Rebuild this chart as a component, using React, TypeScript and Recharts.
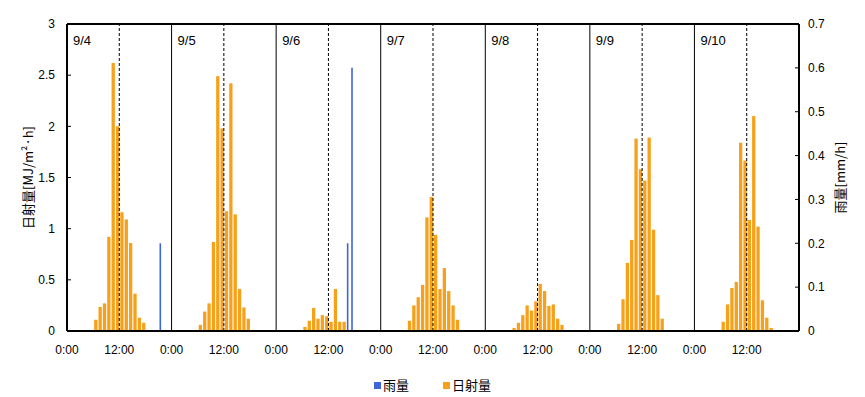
import { Bar, BarChart, Legend, ReferenceLine, XAxis, YAxis } from "recharts";

const days = ["9/4", "9/5", "9/6", "9/7", "9/8", "9/9", "9/10"];

// hourly solar radiation per day, 0:00 .. 23:00 (MJ/m2·h)
const solarByDay = [
  [0, 0, 0, 0, 0, 0, 0.11, 0.235, 0.27, 0.92, 2.62, 2.0, 1.16, 1.09, 0.86, 0.365, 0.13, 0.08, 0, 0, 0, 0, 0, 0],
  [0, 0, 0, 0, 0, 0, 0.06, 0.19, 0.27, 0.87, 2.49, 1.98, 1.17, 2.42, 1.14, 0.41, 0.23, 0.12, 0, 0, 0, 0, 0, 0],
  [0, 0, 0, 0, 0, 0, 0.04, 0.1, 0.225, 0.12, 0.155, 0.145, 0.09, 0.41, 0.09, 0.09, 0, 0, 0, 0, 0, 0, 0, 0],
  [0, 0, 0, 0, 0, 0, 0.1, 0.25, 0.33, 0.45, 1.11, 1.31, 0.94, 0.41, 0.615, 0.39, 0.25, 0.11, 0, 0, 0, 0, 0, 0],
  [0, 0, 0, 0, 0, 0, 0.03, 0.08, 0.155, 0.25, 0.2, 0.29, 0.46, 0.39, 0.245, 0.26, 0.12, 0.06, 0, 0, 0, 0, 0, 0],
  [0, 0, 0, 0, 0, 0, 0.07, 0.31, 0.665, 0.89, 1.88, 1.58, 1.47, 1.89, 0.99, 0.35, 0.12, 0, 0, 0, 0, 0, 0, 0],
  [0, 0, 0, 0, 0, 0, 0.09, 0.26, 0.42, 0.48, 1.84, 1.665, 1.085, 2.1, 1.02, 0.3, 0.13, 0.03, 0, 0, 0, 0, 0, 0],
];

// hourly rainfall per day (mm/h)
const rainByDay = [
  [0, 0, 0, 0, 0, 0, 0, 0, 0, 0, 0, 0, 0, 0, 0, 0, 0, 0, 0, 0, 0, 0.2, 0, 0],
  [0, 0, 0, 0, 0, 0, 0, 0, 0, 0, 0, 0, 0, 0, 0, 0, 0, 0, 0, 0, 0, 0, 0, 0],
  [0, 0, 0, 0, 0, 0, 0, 0, 0, 0, 0, 0, 0, 0, 0, 0, 0.2, 0.6, 0, 0, 0, 0, 0, 0],
  [0, 0, 0, 0, 0, 0, 0, 0, 0, 0, 0, 0, 0, 0, 0, 0, 0, 0, 0, 0, 0, 0, 0, 0],
  [0, 0, 0, 0, 0, 0, 0, 0, 0, 0, 0, 0, 0, 0, 0, 0, 0, 0, 0, 0, 0, 0, 0, 0],
  [0, 0, 0, 0, 0, 0, 0, 0, 0, 0, 0, 0, 0, 0, 0, 0, 0, 0, 0, 0, 0, 0, 0, 0],
  [0, 0, 0, 0, 0, 0, 0, 0, 0, 0, 0, 0, 0, 0, 0, 0, 0, 0, 0, 0, 0, 0, 0, 0],
];

const xTicks = [0, 12, 24, 36, 48, 60, 72, 84, 96, 108, 120, 132, 144, 156];
const tickLabels = ["0:00", "12:00"];
const leftTicks = [0, 0.5, 1, 1.5, 2, 2.5, 3];
const rightTicks = [0, 0.1, 0.2, 0.3, 0.4, 0.5, 0.6, 0.7];

const SOLAR = "#F7A11A";
const RAIN = "#3F66D8";
const NUM_FONT = "'Liberation Sans', Arial, sans-serif";
const JP_FONT = "'Noto Sans CJK JP', sans-serif";

const data = days.flatMap((_, d) =>
  solarByDay[d].map((v, h) => ({ t: d * 24 + h + 0.5, solar: v, rain: rainByDay[d][h] }))
);

function AxisTitle({ viewBox, value, dx }: any) {
  if (!viewBox) return null;
  const cx = viewBox.x + dx;
  const cy = viewBox.y + viewBox.height / 2;
  return (
    <text
      x={cx}
      y={cy}
      transform={`rotate(-90 ${cx} ${cy})`}
      textAnchor="middle"
      dominantBaseline="central"
      fontSize={13}
      fontFamily={JP_FONT}
      fill="#000"
    >
      {value}
    </text>
  );
}

function DayLabel({ viewBox, text }: any) {
  if (!viewBox) return null;
  return (
    <text x={viewBox.x + 6} y={viewBox.y + 21} fontSize={13} fontFamily={NUM_FONT} fill="#000">
      {text}
    </text>
  );
}

function LegendBox() {
  const items = [
    { name: "雨量", color: RAIN },
    { name: "日射量", color: SOLAR },
  ];
  return (
    <div style={{ height: 40, boxSizing: "border-box", paddingTop: 16, display: "flex", justifyContent: "center" }}>
      {items.map((it, i) => (
        <div key={it.name} style={{ display: "flex", alignItems: "center", marginRight: i === 0 ? 34 : 0 }}>
          <span style={{ width: 7, height: 7, background: it.color, display: "inline-block", marginRight: 2 }} />
          <span style={{ fontSize: 13, lineHeight: "16px", fontFamily: JP_FONT, color: "#000" }}>{it.name}</span>
        </div>
      ))}
    </div>
  );
}

export default function App() {
  return (
    <div style={{ position: "absolute", left: 0, top: 0, background: "#fff" }}>
      <BarChart width={865} height={397} data={data} margin={{ top: 24, right: 0, bottom: 0, left: 0 }}>
        <XAxis
          xAxisId="main"
          dataKey="t"
          type="number"
          domain={[0, 168]}
          ticks={xTicks}
          tickFormatter={v => tickLabels[(Number(v) % 24) / 12]}
          tick={{ fontSize: 12, fill: "#000", fontFamily: NUM_FONT }}
          tickLine={false}
          tickSize={0}
          tickMargin={14}
          axisLine={{ stroke: "#000", strokeWidth: 2 }}
          height={26}
          interval={0}
        />
        <XAxis xAxisId="rain" dataKey="t" type="number" domain={[0, 168]} hide />
        <YAxis
          yAxisId="left"
          domain={[0, 3]}
          ticks={leftTicks}
          tick={{ fontSize: 12, fill: "#000", fontFamily: NUM_FONT }}
          tickSize={-4}
          tickMargin={16}
          tickLine={{ stroke: "#000" }}
          axisLine={{ stroke: "#000", strokeWidth: 2 }}
          width={67}
          interval={0}
          label={<AxisTitle value="日射量[MJ/m²·h]" dx={27} />}
        />
        <YAxis
          yAxisId="right"
          orientation="right"
          domain={[0, 0.7]}
          ticks={rightTicks}
          tick={{ fontSize: 12, fill: "#000", fontFamily: NUM_FONT }}
          tickSize={-4}
          tickMargin={13}
          tickLine={{ stroke: "#000" }}
          axisLine={{ stroke: "#000", strokeWidth: 2 }}
          width={66}
          interval={0}
          label={<AxisTitle value="雨量[mm/h]" dx={40} />}
        />
        <Bar dataKey="rain" name="雨量" xAxisId="rain" yAxisId="right" fill={RAIN} barSize={1.6} isAnimationActive={false} />
        <Bar dataKey="solar" name="日射量" xAxisId="main" yAxisId="left" fill={SOLAR} barSize={3.3} isAnimationActive={false} />
        {days.map((day, d) => (
          <ReferenceLine
            key={`day-${day}`}
            x={d * 24}
            xAxisId="main"
            yAxisId="left"
            stroke="#000"
            strokeWidth={1}
            label={<DayLabel text={day} />}
          />
        ))}
        {days.map((day, d) => (
          <ReferenceLine
            key={`noon-${day}`}
            x={d * 24 + 12}
            xAxisId="main"
            yAxisId="left"
            stroke="#000"
            strokeWidth={1}
            strokeDasharray="3 2"
          />
        ))}
        <ReferenceLine y={3} xAxisId="main" yAxisId="left" stroke="#000" strokeWidth={2} />
        <Legend verticalAlign="bottom" height={40} content={() => <LegendBox />} />
      </BarChart>
    </div>
  );
}
